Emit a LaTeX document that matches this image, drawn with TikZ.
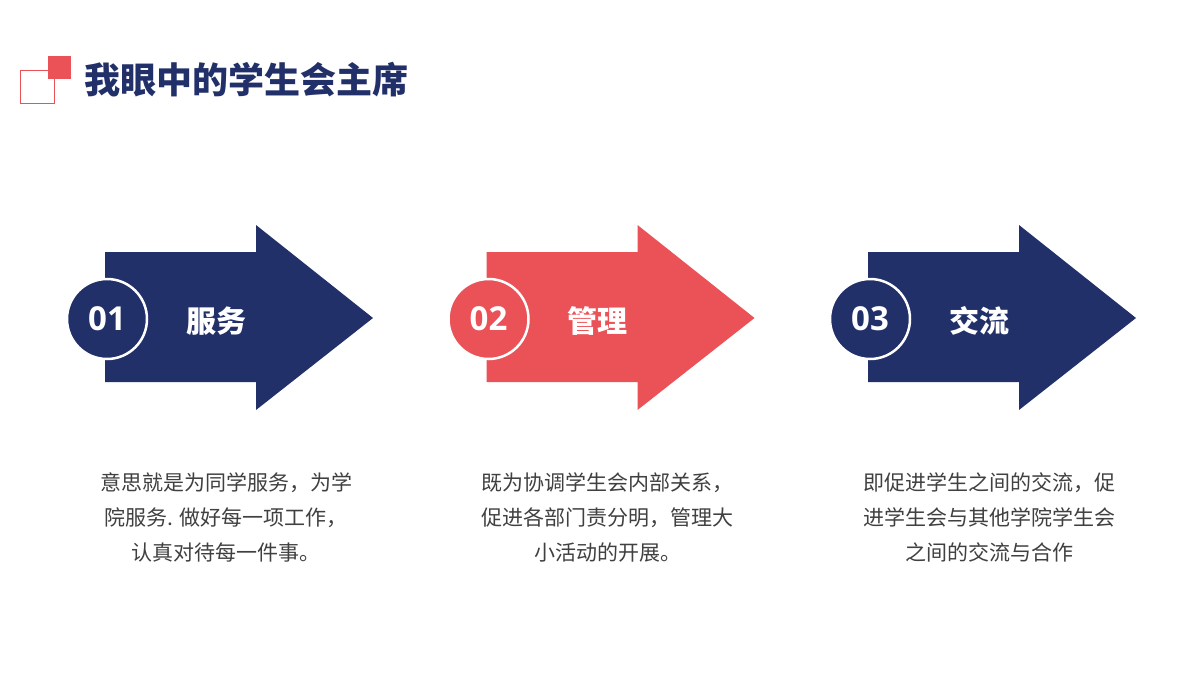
\documentclass[tikz,border=0pt]{standalone}
\usepackage{fontspec}
\newfontfamily\cjk{Noto Sans CJK SC}
\definecolor{navy}{HTML}{22306A}
\definecolor{coral}{HTML}{EB5257}
\definecolor{txt}{HTML}{404040}
\begin{document}
\begin{tikzpicture}[x=1pt,y=-1pt,
  num/.style={circle,minimum size=80pt,draw=white,line width=2.5pt,text=white,font=\fontspec{Open Sans Bold}\fontsize{33}{33}\selectfont,inner sep=0pt},
  lab/.style={text=white,font=\cjk\bfseries\fontsize{30}{30}\selectfont},
  desc/.style={text=txt,align=center,font=\cjk\fontsize{21}{35}\selectfont}]
\useasboundingbox (0,0) rectangle (1200,675);
\fill[white] (0,0) rectangle (1200,675);
\draw[coral,line width=1pt] (20.5,70.5) rectangle (54,103);
\fill[coral] (48,56) rectangle (71,79);
\node[anchor=west,text=navy,font=\cjk\bfseries\fontsize{36}{36}\selectfont,inner sep=0pt] (title) at (84,80) {我眼中的学生会主席};
\foreach \i/\c/\n/\l/\d in {0/navy/01/服务/{意思就是为同学服务，为学\\院服务. 做好每一项工作，\\认真对待每一件事。},
  1/coral/02/管理/{既为协调学生会内部关系，\\促进各部门责分明，管理大\\小活动的开展。},
  2/navy/03/交流/{即促进学生之间的交流，促\\进学生会与其他学院学生会\\之间的交流与合作}}{
  \begin{scope}[xshift=\i*381.5]
  \fill[\c] (105,252) -- (256,252) -- (256,225) -- (373,318) -- (256,410) -- (256,382) -- (105,382) -- cycle;
  \node[num,fill=\c] (n\i) at (107,319) {\n};
  \node[lab] (l\i) at (216,321) {\l};
  \node[desc] (d\i) at (226,517) {\d};
  \end{scope}}
\end{tikzpicture}
\end{document}
